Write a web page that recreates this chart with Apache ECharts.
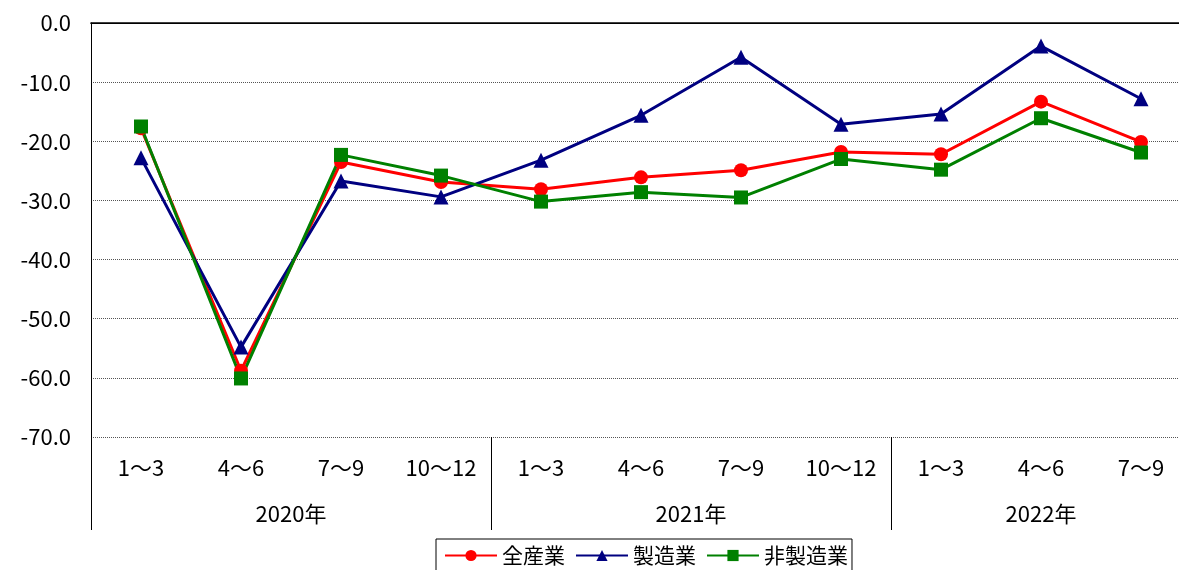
<!DOCTYPE html>
<html>
<head>
<meta charset="utf-8">
<script src="https://cdn.jsdelivr.net/npm/echarts@6/dist/echarts.min.js"></script>
<style>
html,body{margin:0;padding:0;background:#fff;}
#c{width:1179px;height:570px;}
</style>
</head>
<body>
<div id="c"></div>
<script>
const quarters = ['1～3','4～6','7～9','10～12','1～3','4～6','7～9','10～12','1～3','4～6','7～9'];
const years = ['2020年','2021年','2022年'];
const yearBounds = [0, 4, 8, 11];
const yearMids = [2, 6, 9.5];

const allIndustries = [-17.8, -58.8, -23.5, -26.9, -28.1, -26.1, -24.9, -21.8, -22.2, -13.3, -20.1];
const manufacturing = [-22.8, -54.8, -26.7, -29.4, -23.2, -15.6, -5.8, -17.1, -15.4, -3.9, -12.8];
const nonManufacturing = [-17.5, -60.1, -22.3, -25.8, -30.2, -28.6, -29.5, -23.0, -24.8, -16.1, -21.9];

const seriesNames = ['全産業', '製造業', '非製造業'];

const font = '"Noto Sans CJK JP", sans-serif';
const chart = echarts.init(document.getElementById('c'));
chart.setOption({
  animation: false,
  backgroundColor: '#fff',
  grid: {left: 91, top: 23, width: 1100, height: 414, outerBoundsMode: 'none', containLabel: false, show: false},
  legend: {
    left: 436, top: 539,
    data: seriesNames,
    borderColor: '#000', borderWidth: 1,
    padding: [6, 4, 10, 8],
    itemWidth: 52, itemHeight: 14, itemGap: 10,
    textStyle: {fontFamily: font, fontSize: 21, color: '#000'}
  },
  xAxis: [
    {
      type: 'category', data: quarters, boundaryGap: true,
      axisLine: {show: true, lineStyle: {color: '#000', width: 1}},
      axisTick: {show: false},
      axisLabel: {fontFamily: font, fontSize: 22, color: '#000', margin: 20, interval: 0}
    },
    {
      type: 'value', min: 0, max: 11, position: 'bottom',
      axisLine: {show: false},
      splitLine: {show: false},
      axisTick: {show: true, customValues: yearBounds, length: 93, lineStyle: {color: '#000', width: 1}},
      axisLabel: {customValues: yearMids, margin: 66, fontFamily: font, fontSize: 22, color: '#000',
        formatter: v => years[yearMids.indexOf(v)]}
    },
    {
      type: 'value', min: 0, max: 11, position: 'top',
      axisLine: {show: true, lineStyle: {color: '#000', width: 1.5}},
      axisTick: {show: false}, axisLabel: {show: false}, splitLine: {show: false}
    }
  ],
  yAxis: {
    type: 'value', min: -70, max: 0, interval: 10,
    axisLine: {show: true, lineStyle: {color: '#000'}},
    axisTick: {show: false},
    splitLine: {show: true, lineStyle: {type: 'dotted', color: '#555', width: 1}},
    axisLabel: {fontFamily: font, fontSize: 22, color: '#000', margin: 20, formatter: v => v.toFixed(1)}
  },
  series: [
    {name: seriesNames[0], type: 'line', data: allIndustries, symbol: 'circle', symbolSize: 14,
     itemStyle: {color: '#ff0000'}, lineStyle: {color: '#ff0000', width: 3}},
    {name: seriesNames[1], type: 'line', data: manufacturing, symbol: 'triangle', symbolSize: 15,
     itemStyle: {color: '#000080'}, lineStyle: {color: '#000080', width: 3}},
    {name: seriesNames[2], type: 'line', data: nonManufacturing, symbol: 'rect', symbolSize: 14,
     itemStyle: {color: '#008000'}, lineStyle: {color: '#008000', width: 3}}
  ]
});
</script>
</body>
</html>
